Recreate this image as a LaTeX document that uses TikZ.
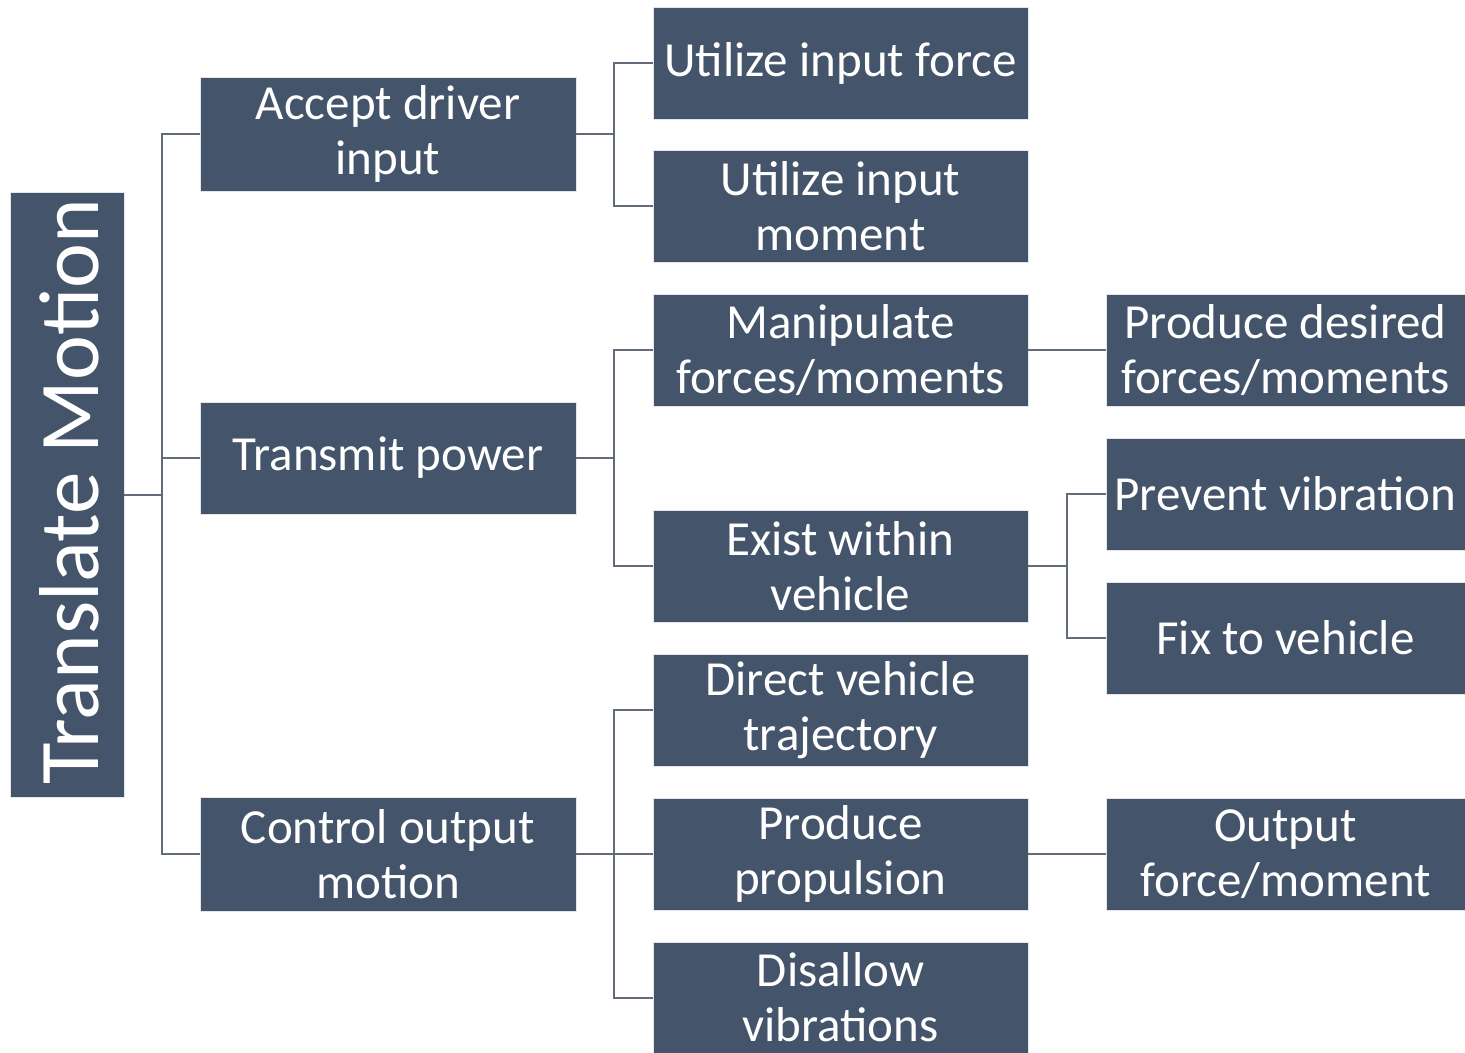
\documentclass[tikz,border=0pt]{standalone}
\usepackage{fontspec}
\setmainfont{Carlito}
\usepackage{tikz}
\usetikzlibrary{calc}
\definecolor{slate}{HTML}{44546A}
\definecolor{wire}{HTML}{626B78}
\tikzset{func/.style={draw=white!85!slate, line width=0.4pt, fill=slate, text=white,
  align=center, inner sep=0pt, font=\fontsize{24.5}{27.5}\selectfont}}
\tikzset{link/.style={draw=wire, line width=1pt}}

\begin{document}
\begin{tikzpicture}[x=0.5pt, y=-0.5pt]
  \useasboundingbox (0,0) rectangle (1465,1053);
  % root
  \node[func, minimum width=57pt, minimum height=302.5pt] (tm) at (67,494.5) {};
  \node[rotate=90, text=white, font=\fontsize{42.5}{50}\selectfont] at ($(tm.center)+(2,-3)$) {Translate Motion};
  % second level
  \node[func, minimum width=188pt, minimum height=57pt] (adi) at (388,134) {Accept driver\\input};
  \node[func, minimum width=188pt, minimum height=56pt] (tp) at (388,458) {Transmit power};
  \node[func, minimum width=188pt, minimum height=57pt] (com) at (388,854) {Control output\\motion};
  % third level
  \node[func, minimum width=187.5pt, minimum height=56pt] (uif) at (840.5,63) {Utilize input force};
  \node[func, minimum width=187.5pt, minimum height=56pt] (uim) at (840.5,206) {Utilize input\\moment};
  \node[func, minimum width=187.5pt, minimum height=56pt] (mfm) at (840.5,350) {Manipulate\\forces/moments};
  \node[func, minimum width=187.5pt, minimum height=56pt] (ewv) at (840.5,566) {Exist within\\vehicle};
  \node[func, minimum width=187.5pt, minimum height=56pt] (dvt) at (840.5,710) {Direct vehicle\\trajectory};
  \node[func, minimum width=187.5pt, minimum height=56pt] (pp) at (840.5,854) {Produce\\propulsion};
  \node[func, minimum width=187.5pt, minimum height=55.5pt] (dv) at (840.5,997.5) {Disallow\\vibrations};
  % fourth level
  \node[func, minimum width=179.5pt, minimum height=56pt] (pdf) at (1285.5,350) {Produce desired\\forces/moments};
  \node[func, minimum width=179.5pt, minimum height=56pt] (pv) at (1285.5,494) {Prevent vibration};
  \node[func, minimum width=179.5pt, minimum height=56pt] (fv) at (1285.5,638) {Fix to vehicle};
  \node[func, minimum width=179.5pt, minimum height=56pt] (ofm) at (1285.5,854) {Output\\force/moment};
  % connectors
  \foreach \c in {adi,tp,com} \draw[link] (tm.east) -- ++(38,0) |- (\c.west);
  \foreach \c in {uif,uim} \draw[link] (adi.east) -- ++(38,0) |- (\c.west);
  \foreach \c in {mfm,ewv} \draw[link] (tp.east) -- ++(38,0) |- (\c.west);
  \foreach \c in {dvt,pp,dv} \draw[link] (com.east) -- ++(38,0) |- (\c.west);
  \foreach \c in {pv,fv} \draw[link] (ewv.east) -- ++(39,0) |- (\c.west);
  \draw[link] (mfm.east) -- (pdf.west);
  \draw[link] (pp.east) -- (ofm.west);
\end{tikzpicture}
\end{document}
